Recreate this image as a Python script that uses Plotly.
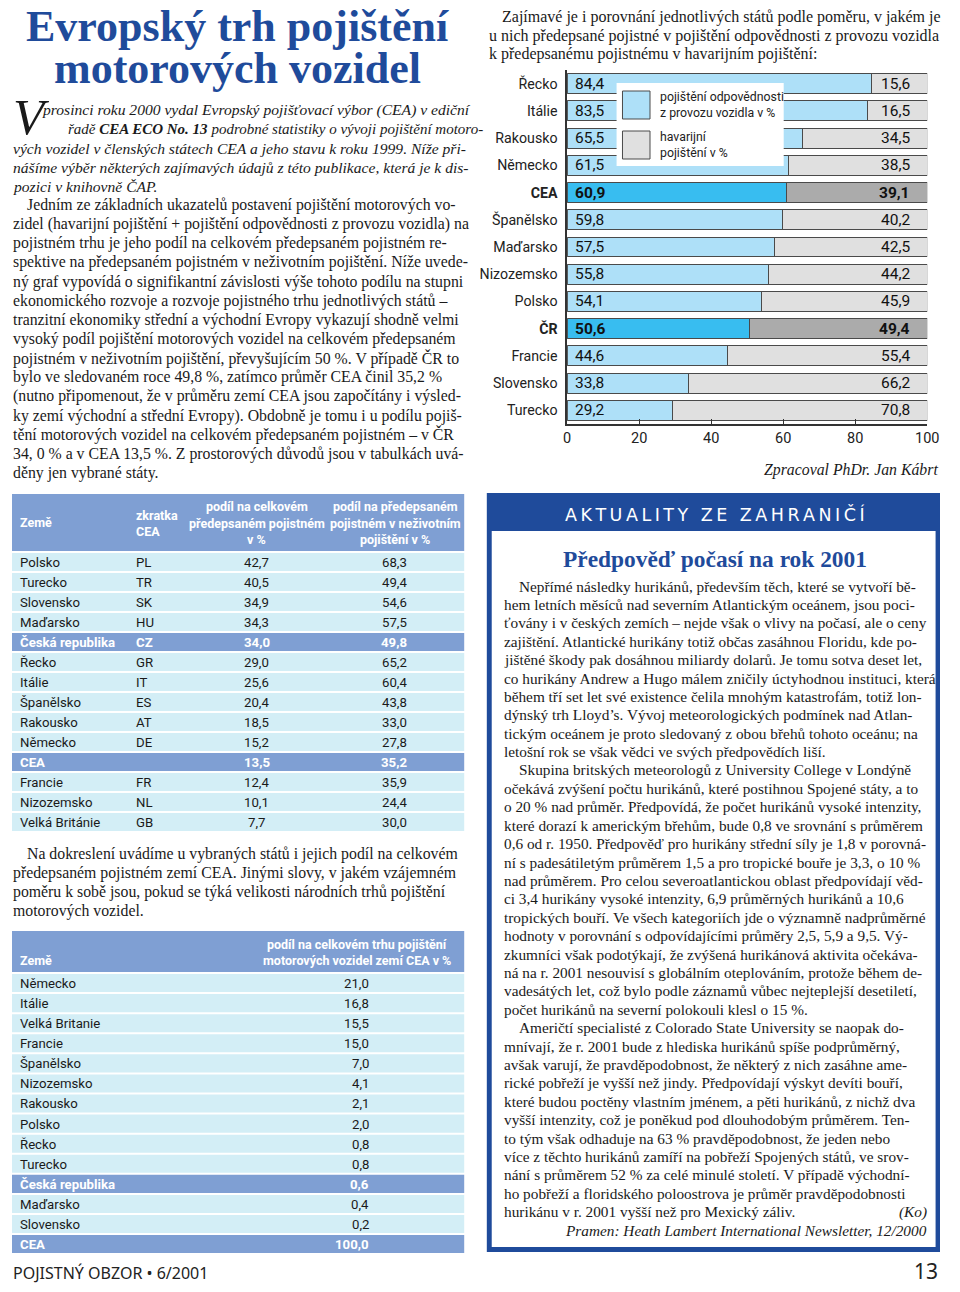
import plotly.graph_objects as go

# page is 960x1292; the browser's default 8px body margin surrounds a 944x1276 figure
PAGE_W, PAGE_H, M = 960, 1292, 8
W, H = PAGE_W - 2 * M, PAGE_H - 2 * M

# ---------------- chart data ----------------
countries = ["Řecko", "Itálie", "Rakousko", "Německo", "CEA", "Španělsko", "Maďarsko",
             "Nizozemsko", "Polsko", "ČR", "Francie", "Slovensko", "Turecko"]
liability = [84.4, 83.5, 65.5, 61.5, 60.9, 59.8, 57.5, 55.8, 54.1, 50.6, 44.6, 33.8, 29.2]
casco = [15.6, 16.5, 34.5, 38.5, 39.1, 40.2, 42.5, 44.2, 45.9, 49.4, 55.4, 66.2, 70.8]
highlight = ["CEA", "ČR"]
x_ticks = [0, 20, 40, 60, 80, 100]
legend_labels = ["pojištění odpovědnosti<br>z provozu vozidla v %", "havarijní<br>pojištění v %"]

# ---------------- table 1 data ----------------
t1_countries = ["Polsko", "Turecko", "Slovensko", "Maďarsko", "Česká republika", "Řecko", "Itálie",
                "Španělsko", "Rakousko", "Německo", "CEA", "Francie", "Nizozemsko", "Velká Británie"]
t1_codes = ["PL", "TR", "SK", "HU", "CZ", "GR", "IT", "ES", "AT", "DE", "", "FR", "NL", "GB"]
t1_total = [42.7, 40.5, 34.9, 34.3, 34.0, 29.0, 25.6, 20.4, 18.5, 15.2, 13.5, 12.4, 10.1, 7.7]
t1_nonlife = [68.3, 49.4, 54.6, 57.5, 49.8, 65.2, 60.4, 43.8, 33.0, 27.8, 35.2, 35.9, 24.4, 30.0]

# ---------------- table 2 data ----------------
t2_countries = ["Německo", "Itálie", "Velká Britanie", "Francie", "Španělsko", "Nizozemsko", "Rakousko",
                "Polsko", "Řecko", "Turecko", "Česká republika", "Maďarsko", "Slovensko", "CEA"]
t2_share = [21.0, 16.8, 15.5, 15.0, 7.0, 4.1, 2.1, 2.0, 0.8, 0.8, 0.6, 0.4, 0.2, 100.0]
table_highlight = ["Česká republika", "CEA"]

# ---------------- styles ----------------
SERIF = "Liberation Serif, Times New Roman, serif"
NARROW = "Liberation Sans Narrow, Arial Narrow, Roboto, sans-serif"
SANS = "DejaVu Sans, Liberation Sans, sans-serif"
TXT = "#1a1a1a"
TITLE_BLUE = "#1f4b9b"
LIGHT_BLUE = "#aee0f8"
DARK_BLUE = "#38bdf0"
LIGHT_GRAY = "#e0e0e0"
DARK_GRAY = "#ababab"
OUTLINE = "#4a4a4a"
TAB_HDR = "#7f9fd3"
TAB_ROW = "#d3eef6"


def fmt(v):
    return f"{v:.1f}".replace(".", ",")


def fx(x):  # page px -> paper fraction
    return (x - M) / W


def fy(y):
    return 1 - (y - M) / H


annotations = []
shapes = []


def text(x, y, s, size=16, family=SERIF, color=TXT, anchor="left"):
    annotations.append(dict(x=fx(x), y=fy(y), xref="paper", yref="paper", text=s,
                            showarrow=False, xanchor=anchor, yanchor="middle", borderpad=0,
                            font=dict(size=size, family=family, color=color)))


def rect(x0, y0, x1, y1, fill, line_color=None, layer="below"):
    shapes.append(dict(type="rect", xref="paper", yref="paper",
                       x0=fx(x0), x1=fx(x1), y0=fy(y1), y1=fy(y0), fillcolor=fill,
                       line=dict(width=0) if line_color is None else dict(color=line_color, width=1),
                       layer=layer))


fig = go.Figure()

# ---------------- stacked bar chart ----------------
lc = [DARK_BLUE if c in highlight else LIGHT_BLUE for c in countries]
cc = [DARK_GRAY if c in highlight else LIGHT_GRAY for c in countries]
fig.add_trace(go.Bar(y=countries, x=liability, orientation="h", name=legend_labels[0],
                     marker=dict(color=lc, line=dict(color=OUTLINE, width=1)), hoverinfo="skip"))
fig.add_trace(go.Bar(y=countries, x=casco, orientation="h", name=legend_labels[1],
                     marker=dict(color=cc, line=dict(color=OUTLINE, width=1)), hoverinfo="skip"))

for c, a, b in zip(countries, liability, casco):
    bold = c in highlight
    ta = f"<b>{fmt(a)}</b>" if bold else fmt(a)
    tb = f"<b>{fmt(b)}</b>" if bold else fmt(b)
    annotations.append(dict(x=0, y=c, xref="x", yref="y", text=ta, showarrow=False,
                            xanchor="left", xshift=6, yanchor="middle",
                            font=dict(size=15.5, family=NARROW, color="#111")))
    annotations.append(dict(x=a + b, y=c, xref="x", yref="y", text=tb, showarrow=False,
                            xanchor="right", xshift=-15, yanchor="middle",
                            font=dict(size=15.5, family=NARROW, color="#111")))

# legend box
rect(623, 83, 793, 166, "white", layer="above")
rect(629, 91, 657, 119, LIGHT_BLUE, OUTLINE, layer="above")
rect(629, 131, 657, 159, LIGHT_GRAY, OUTLINE, layer="above")
for i, lab in enumerate(legend_labels):
    for j, part in enumerate(lab.split("<br>")):
        text(666, 97 + 40 * i + 16 * j, part, size=12.3, family=NARROW, color="#222")

text(951, 470, "<i>Zpracoval PhDr. Jan Kábrt</i>", size=15.8, anchor="right")

# ---------------- title & intro ----------------
text(237, 27, "<b>Evropský trh pojištění</b>", size=44, color=TITLE_BLUE, anchor="center")
text(237, 68, "<b>motorových vozidel</b>", size=44, color=TITLE_BLUE, anchor="center")
text(8, 117, "<i>V</i>", size=51)
intro = [
    (38, "prosinci roku 2000 vydal Evropský pojišťovací výbor (CEA) v ediční"),
    (64, "řadě <b>CEA ECO No. 13</b> podrobné statistiky o vývoji pojištění motoro-"),
    (8, "vých vozidel v členských státech CEA a jeho stavu k roku 1999. Níže při-"),
    (8, "nášíme výběr některých zajímavých údajů z této publikace, která je k dis-"),
    (8, "pozici v knihovně ČAP."),
]
for i, (x, s) in enumerate(intro):
    text(x, 110 + 19 * i, f"<i>{s}</i>", size=15.6 if i != 1 else 15.0)

body1 = [
    "Jedním ze základních ukazatelů postavení pojištění motorových vo-",
    "zidel (havarijní pojištění + pojištění odpovědnosti z provozu vozidla) na",
    "pojistném trhu je jeho podíl na celkovém předepsaném pojistném re-",
    "spektive na předepsaném pojistném v neživotním pojištění. Níže uvede-",
    "ný graf vypovídá o signifikantní závislosti výše tohoto podílu na stupni",
    "ekonomického rozvoje a rozvoje pojistného trhu jednotlivých států –",
    "tranzitní ekonomiky střední a východní Evropy vykazují shodně velmi",
    "vysoký podíl pojištění motorových vozidel na celkovém předepsaném",
    "pojistném v neživotním pojištění, převyšujícím 50 %. V případě ČR to",
    "bylo ve sledovaném roce 49,8 %, zatímco průměr CEA činil 35,2 %",
    "(nutno připomenout, že v průměru zemí CEA jsou započítány i výsled-",
    "ky zemí východní a střední Evropy). Obdobně je tomu i u podílu pojiš-",
    "tění motorových vozidel na celkovém předepsaném pojistném – v ČR",
    "34, 0 % a v CEA 13,5 %. Z prostorových důvodů jsou v tabulkách uvá-",
    "děny jen vybrané státy.",
]
for i, s in enumerate(body1):
    text(22 if i == 0 else 8, 205 + 19.14 * i, s, size=15.8)

# ---------------- table 1 ----------------
rect(8, 494, 468, 551, TAB_HDR)
HB = dict(size=12.5, family=NARROW, color="white")
text(15, 522, "<b>Země</b>", **HB)
text(133, 515, "<b>zkratka</b>", **HB)
text(133, 531, "<b>CEA</b>", **HB)
for j, s in enumerate(["podíl na celkovém", "předepsaném pojistném", "v %"]):
    text(257, 507 + 16 * j, f"<b>{s}</b>", anchor="center", **HB)
for j, s in enumerate(["podíl na předepsaném", "pojistném v neživotním", "pojištění v %"]):
    text(398, 507 + 16 * j, f"<b>{s}</b>", anchor="center", **HB)

CELL = 13.2
for i, (c, code, a, b) in enumerate(zip(t1_countries, t1_codes, t1_total, t1_nonlife)):
    y0 = 551 + 20 * i
    hl = c in table_highlight
    rect(8, y0 + 2, 468, y0 + 20, TAB_HDR if hl else TAB_ROW)
    col = "white" if hl else TXT
    w = (lambda s: f"<b>{s}</b>") if hl else (lambda s: s)
    yc = y0 + 11.5
    text(15, yc, w(c), size=CELL, family=NARROW, color=col)
    text(133, yc, w(code), size=CELL, family=NARROW, color=col)
    text(257, yc, w(fmt(a)), size=CELL, family=NARROW, color=col, anchor="center")
    text(397, yc, w(fmt(b)), size=CELL, family=NARROW, color=col, anchor="center")

# ---------------- paragraph 2 ----------------
body2 = [
    "Na dokreslení uvádíme u vybraných států i jejich podíl na celkovém",
    "předepsaném pojistném zemí CEA. Jinými slovy, v jakém vzájemném",
    "poměru k sobě jsou, pokud se týká velikosti národních trhů pojištění",
    "motorových vozidel.",
]
for i, s in enumerate(body2):
    text(22 if i == 0 else 8, 854 + 19.1 * i, s, size=15.8)

# ---------------- table 2 ----------------
rect(8, 931, 468, 972, TAB_HDR)
text(15, 960, "<b>Země</b>", **HB)
text(359, 944, "<b>podíl na celkovém trhu pojištění</b>", anchor="center", **HB)
text(359, 960, "<b>motorových vozidel zemí CEA v %</b>", anchor="center", **HB)
for i, (c, v) in enumerate(zip(t2_countries, t2_share)):
    y0 = 972 + 20.08 * i
    hl = c in table_highlight
    rect(8, y0 + 2, 468, y0 + 20.08, TAB_HDR if hl else TAB_ROW)
    col = "white" if hl else TXT
    w = (lambda s: f"<b>{s}</b>") if hl else (lambda s: s)
    yc = y0 + 11.5
    text(15, yc, w(c), size=CELL, family=NARROW, color=col)
    text(372, yc, w(fmt(v)), size=CELL, family=NARROW, color=col, anchor="right")

# ---------------- right column intro ----------------
right_intro = [
    (505, "Zajímavé je i porovnání jednotlivých států podle poměru, v jakém je"),
    (492, "u nich předepsané pojistné v pojištění odpovědnosti z provozu vozidla"),
    (492, "k předepsanému pojistnému v havarijním pojištění:"),
]
for i, (x, s) in enumerate(right_intro):
    text(x, 17 + 18.5 * i, s, size=16)

# ---------------- news box ----------------
rect(491, 493, 952, 1252, TITLE_BLUE)
rect(496, 531, 947.5, 1247, "white")
heading = "\u2009".join("AKTUALITY ZE ZAHRANIČÍ")
text(723, 514, heading, size=17.5, family=SANS, color="white", anchor="center")
text(723, 559, "<b>Předpověď počasí na rok 2001</b>", size=23.4, color=TITLE_BLUE, anchor="center")

article = [
    ["Nepřímé následky hurikánů, především těch, které se vytvoří bě-",
     "hem letních měsíců nad severním Atlantickým oceánem, jsou poci-",
     "ťovány i v českých zemích – nejde však o vlivy na počasí, ale o ceny",
     "zajištění. Atlantické hurikány totiž občas zasáhnou Floridu, kde po-",
     "jištěné škody pak dosáhnou miliardy dolarů. Je tomu sotva deset let,",
     "co hurikány Andrew a Hugo málem zničily úctyhodnou instituci, která",
     "během tří set let své existence čelila mnohým katastrofám, totiž lon-",
     "dýnský trh Lloyd’s. Vývoj meteorologických podmínek nad Atlan-",
     "tickým oceánem je proto sledovaný z obou břehů tohoto oceánu; na",
     "letošní rok se však vědci ve svých předpovědích liší."],
    ["Skupina britských meteorologů z University College v Londýně",
     "očekává zvýšení počtu hurikánů, které postihnou Spojené státy, a to",
     "o 20 % nad průměr. Předpovídá, že počet hurikánů vysoké intenzity,",
     "které dorazí k americkým břehům, bude 0,8 ve srovnání s průměrem",
     "0,6 od r. 1950. Předpověď pro hurikány střední síly je 1,8 v porovná-",
     "ní s padesátiletým průměrem 1,5 a pro tropické bouře je 3,3, o 10 %",
     "nad průměrem. Pro celou severoatlantickou oblast předpovídají věd-",
     "ci 3,4 hurikány vysoké intenzity, 6,9 průměrných hurikánů a 10,6",
     "tropických bouří. Ve všech kategoriích jde o významně nadprůměrné",
     "hodnoty v porovnání s odpovídajícími průměry 2,5, 5,9 a 9,5. Vý-",
     "zkumníci však podotýkají, že zvýšená hurikánová aktivita očekáva-",
     "ná na r. 2001 nesouvisí s globálním oteplováním, protože během de-",
     "vadesátých let, což bylo podle záznamů vůbec nejteplejší desetiletí,",
     "počet hurikánů na severní polokouli klesl o 15 %."],
    ["Američtí specialisté z Colorado State University se naopak do-",
     "mnívají, že r. 2001 bude z hlediska hurikánů spíše podprůměrný,",
     "avšak varují, že pravděpodobnost, že některý z nich zasáhne ame-",
     "rické pobřeží je vyšší než jindy. Předpovídají výskyt devíti bouří,",
     "které budou poctěny vlastním jménem, a pěti hurikánů, z nichž dva",
     "vyšší intenzity, což je poněkud pod dlouhodobým průměrem. Ten-",
     "to tým však odhaduje na 63 % pravděpodobnost, že jeden nebo",
     "více z těchto hurikánů zamíří na pobřeží Spojených států, ve srov-",
     "nání s průměrem 52 % za celé minulé století. V případě východní-",
     "ho pobřeží a floridského poloostrova je průměr pravděpodobnosti",
     "hurikánu v r. 2001 vyšší než pro Mexický záliv."],
]
k = 0
for para in article:
    for j, s in enumerate(para):
        text(523 if j == 0 else 507, 586 + 18.4 * k, s, size=15.3)
        k += 1
text(940, 586 + 18.4 * (k - 1), "<i>(Ko)</i>", size=15.3, anchor="right")
text(940, 586 + 18.4 * k, "<i>Pramen: Heath Lambert International Newsletter, 12/2000</i>",
     size=15.3, anchor="right")

# ---------------- footer ----------------
text(8, 1273, "POJISTNÝ OBZOR • 6/2001", size=16, family="Noto Sans, sans-serif", color="#222")
text(951, 1271, "13", size=21, family="Noto Sans, sans-serif", color="#222", anchor="right")

fig.update_layout(
    width=W, height=H, autosize=False, margin=dict(l=0, r=0, t=0, b=0),
    paper_bgcolor="white", plot_bgcolor="white",
    barmode="stack", bargap=0.27, showlegend=False,
    xaxis=dict(domain=[fx(572.7), fx(939)], range=[0, 100], tickvals=x_ticks,
               ticktext=[str(t) for t in x_ticks], ticks="inside", ticklen=5, tickcolor="#333",
               showgrid=False, zeroline=False, showline=True, linecolor="#333", linewidth=1.5,
               ticklabeloverflow="allow",
               tickfont=dict(size=14.5, family=NARROW, color="#222")),
    yaxis=dict(domain=[fy(424), fy(70)], autorange="reversed", tickvals=countries,
               ticktext=[f"<b>{c}</b>" if c in highlight else c for c in countries],
               ticks="", showgrid=False, zeroline=False, showline=True, linecolor="#333",
               linewidth=1.5, ticklabelstandoff=5,
               tickfont=dict(size=14.2, family=NARROW, color="#222")),
    shapes=shapes, annotations=annotations,
)

fig.write_html("out.html", config={"responsive": False, "displayModeBar": False})
